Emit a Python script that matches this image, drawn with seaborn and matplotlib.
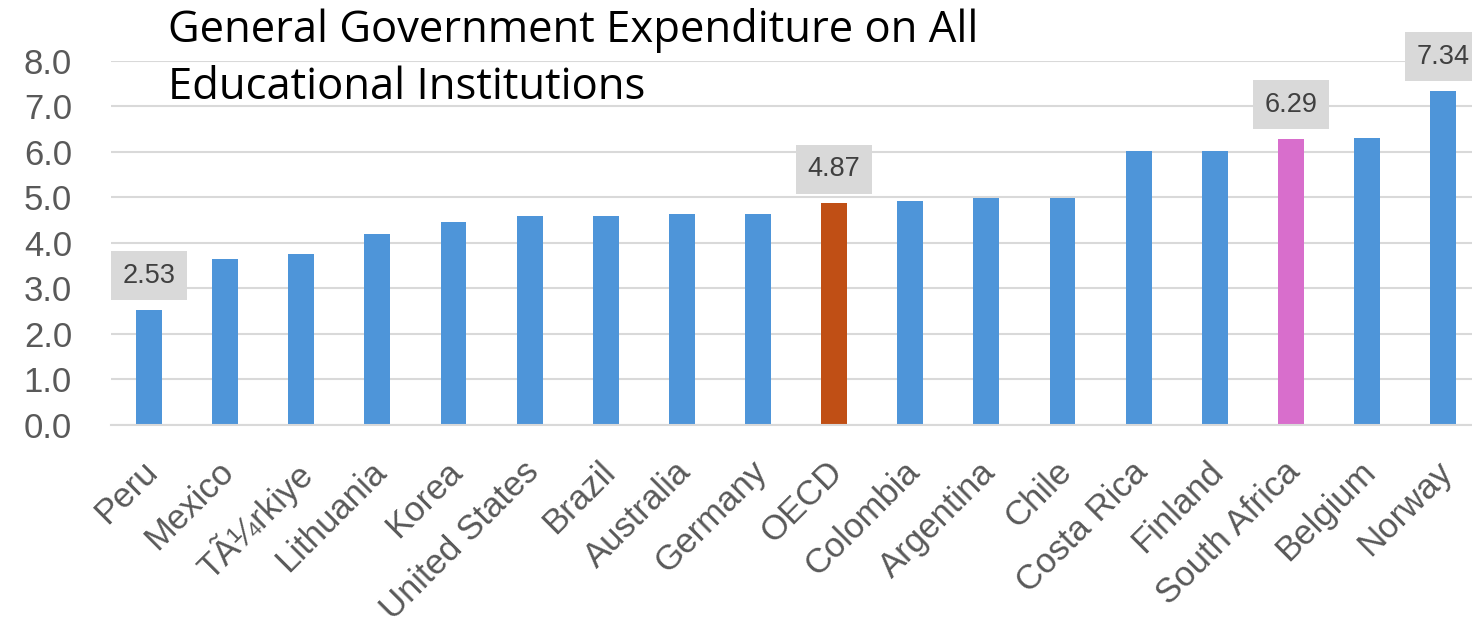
import matplotlib
matplotlib.use("Agg")
import matplotlib.pyplot as plt
import matplotlib.transforms as mtransforms
import seaborn as sns
import pandas as pd

countries = ["Peru", "Mexico", "TÃ¼rkiye", "Lithuania", "Korea", "United States",
             "Brazil", "Australia", "Germany", "OECD", "Colombia", "Argentina",
             "Chile", "Costa Rica", "Finland", "South Africa", "Belgium", "Norway"]
values = [2.53, 3.64, 3.75, 4.19, 4.46, 4.58, 4.59, 4.64, 4.64, 4.87, 4.92, 4.98,
          4.98, 6.02, 6.02, 6.29, 6.31, 7.34]
labelled = ["Peru", "OECD", "South Africa", "Norway"]
title_lines = ["General Government Expenditure on All", "Educational Institutions"]

BLUE = "#4e95d9"
colors = {c: BLUE for c in countries}
colors["OECD"] = "#c04f15"
colors["South Africa"] = "#d86ecc"

df = pd.DataFrame({"country": countries, "value": values})

sns.set_theme(style="white")
plt.rcParams["font.family"] = ["Liberation Sans", "DejaVu Sans"]

W, H = 1472, 630
fig = plt.figure(figsize=(W / 100, H / 100), dpi=100)
ax = fig.add_axes([111 / W, 205 / H, 1 - 111 / W, (425 - 60.7) / H])

sns.barplot(data=df, x="country", y="value", hue="country", palette=colors,
            width=0.34, legend=False, ax=ax, saturation=1, linewidth=0)

ax.set_ylim(0, 8)
ax.set_xlim(-0.5, 17.38)
ax.set_yticks(range(0, 9))
ax.set_yticklabels([f"{v:.1f}" for v in range(0, 9)])
ax.yaxis.grid(True, color="#d9d9d9", linewidth=1.5)
ax.set_axisbelow(True)
for side in ["top", "right", "left"]:
    ax.spines[side].set_visible(False)
ax.spines["bottom"].set_color("#d9d9d9")
ax.spines["bottom"].set_linewidth(1.5)
ax.set_xlabel("")
ax.set_ylabel("")
ax.tick_params(axis="y", labelsize=25, labelcolor="#595959", length=0, pad=28)
ax.tick_params(axis="x", labelsize=25, labelcolor="#595959", length=0, pad=18)
shift = mtransforms.ScaledTranslation(-8 / 100, -5 / 100, fig.dpi_scale_trans)
for lab in ax.get_xticklabels():
    lab.set_rotation(45)
    lab.set_ha("right")
    lab.set_rotation_mode("anchor")
    lab.set_transform(lab.get_transform() + shift)

for i, (c, v) in enumerate(zip(countries, values)):
    if c in labelled:
        ax.annotate(f"{v:.2f}", xy=(i, v), xytext=(0, 34), textcoords="offset pixels",
                    ha="center", va="center", fontsize=19.5, color="#404040",
                    bbox=dict(boxstyle="square,pad=0.42", fc="#d9d9d9", ec="none"),
                    annotation_clip=False)

# Two-line title, sized so the first line spans the intended width
renderer = fig.canvas.get_renderer()
t1 = fig.text(168 / W, 1 - 42 / H, title_lines[0], fontsize=30, family="Open Sans",
              color="black", va="baseline", ha="left")
width_px = t1.get_window_extent(renderer).width
size = 30 * 810 / width_px
t1.set_fontsize(size)
fig.text(168 / W, 1 - 99 / H, title_lines[1], fontsize=size, family="Open Sans",
         color="black", va="baseline", ha="left")

fig.savefig("out.png", dpi=100)
